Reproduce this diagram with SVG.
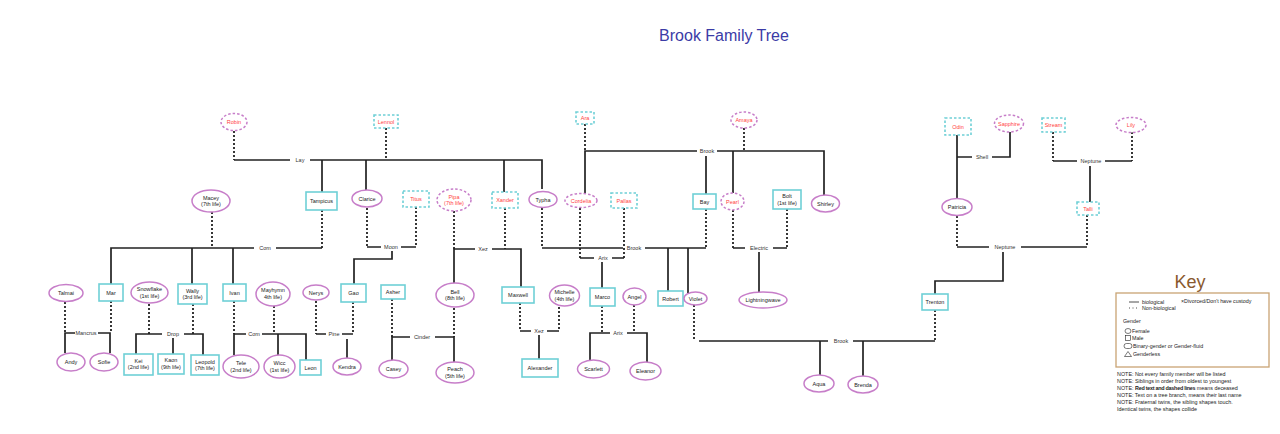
<svg xmlns="http://www.w3.org/2000/svg" width="1280" height="434" viewBox="0 0 1280 434">
<style>
.bg{fill:#fff}
.f{fill:#fff;stroke:#c77ec9;stroke-width:1.5}
.m{fill:#fff;stroke:#6fd0d6;stroke-width:1.6}
.dd{stroke-dasharray:2.5 2}
.t{font-family:"Liberation Sans",Arial,sans-serif;font-size:5.5px;fill:#222;text-anchor:middle}
.r{fill:#ff4242}
.s{fill:none;stroke:#222;stroke-width:1.7}
.d{fill:none;stroke:#222;stroke-width:1.8;stroke-dasharray:2 2}
.lb{font-family:"Liberation Sans",Arial,sans-serif;font-size:5.5px;fill:#333;text-anchor:middle}
.k{font-family:"Liberation Sans",Arial,sans-serif;font-size:5.3px;fill:#222}
.n{font-family:"Liberation Sans",Arial,sans-serif;font-size:5.4px;fill:#222}
</style>
<rect class="bg" x="0" y="0" width="1280" height="434"/>
<text x="724" y="41" font-family="'Liberation Sans',Arial,sans-serif" font-size="16" fill="#3b3ba6" text-anchor="middle">Brook Family Tree</text>

<g id="connectors">
<path class="d" d="M234 131V160M386 128V160"/>
<path class="s" d="M234 160H290M310 160H542V189M322 160V192M366 160V190M504 160V192"/>
<text class="lb" x="300" y="162">Lay</text>
<path class="d" d="M585 124V151M744 128V151"/>
<path class="s" d="M585 193V151H697M717 151H824V195M706 156V194M733 151V193"/>
<text class="lb" x="707" y="153">Brook</text>
<path class="s" d="M957 135V199M957 157H972M992 157H1010V132"/>
<text class="lb" x="982" y="159">Shell</text>
<path class="d" d="M1053 132V161M1132 132V161"/>
<path class="s" d="M1053 161H1077M1105 161H1132M1090 166V202"/>
<text class="lb" x="1091" y="163">Neptune</text>
<path class="d" d="M957 216V247M1087 215V247"/>
<path class="s" d="M957 247H989M1021 247H1087M1003 252V281H935V294"/>
<text class="lb" x="1005" y="249">Neptune</text>
<path class="d" d="M212 212V248M322 210V248"/>
<path class="s" d="M111 284V248H254M276 248H322M192 248V284M233 248V284"/>
<text class="lb" x="265" y="250">Com</text>
<path class="d" d="M367 208V247M416 207V247"/>
<path class="s" d="M367 247H381M401 247H416M392 251V259H354V284"/>
<text class="lb" x="391" y="249">Moon</text>
<path class="d" d="M454 211V249M505 208V249"/>
<path class="s" d="M454 283V249H475M492 249H521V287"/>
<text class="lb" x="483" y="251">Xez</text>
<path class="d" d="M542 208V248M706 209V248"/>
<path class="s" d="M542 248H623M645 248H706M668 248V291M688 248V293"/>
<text class="lb" x="634" y="250">Brook</text>
<path class="d" d="M580 208V258M624 208V258"/>
<path class="s" d="M580 258H594M612 258H624M602 262V288"/>
<text class="lb" x="603" y="260">Arix</text>
<path class="d" d="M733 210V248M787 209V248"/>
<path class="s" d="M733 248H745M773 248H787M759 252V292"/>
<text class="lb" x="759" y="250">Electric</text>
<path class="d" d="M65 302V333M111 301V333"/>
<path class="s" d="M65 353V333H75M98 333H110V353"/>
<text class="lb" x="86" y="335">Mancrus</text>
<path class="d" d="M149 304V334M193 304V334"/>
<path class="s" d="M136 354V334H162M184 334H203V355M173 338V354"/>
<text class="lb" x="173" y="336">Drop</text>
<path class="d" d="M234 301V334M274 306V334"/>
<path class="s" d="M234 355V334H246M262 334H306V360M278 334V355"/>
<text class="lb" x="254" y="336">Com</text>
<path class="d" d="M316 301V334M353 302V334"/>
<path class="s" d="M316 334H326M342 334H353M347 339V358"/>
<text class="lb" x="334" y="336">Pine</text>
<path class="d" d="M392 299V337M454 308V337"/>
<path class="s" d="M392 360V337H410M435 337H454V362"/>
<text class="lb" x="422" y="339">Cinder</text>
<path class="d" d="M520 303V331M559 307V331"/>
<path class="s" d="M520 331H531M547 331H559M539 335V359"/>
<text class="lb" x="539" y="333">Xez</text>
<path class="d" d="M602 306V333M634 305V333"/>
<path class="s" d="M590 360V333H610M627 333H647V362"/>
<text class="lb" x="618" y="335">Arix</text>
<path class="d" d="M694 305V341M935 310V341"/>
<path class="s" d="M699 341H828M853 341H935M820 341V375M863 341V376"/>
<text class="lb" x="841" y="343">Brook</text>
</g>

<g id="robin"><ellipse class="f dd" cx="234" cy="122" rx="13" ry="8.5"/><text class="t r" x="234" y="124">Robin</text></g>
<g id="lennol"><rect class="m dd" x="374" y="115" width="24" height="13"/><text class="t r" x="386" y="123.5">Lennol</text></g>
<g id="ara"><rect class="m dd" x="576" y="112" width="18" height="12"/><text class="t r" x="585" y="120">Ara</text></g>
<g id="amaya"><ellipse class="f dd" cx="744" cy="120" rx="13" ry="8"/><text class="t r" x="744" y="122">Amaya</text></g>
<g id="odin"><rect class="m dd" x="945" y="118" width="26" height="17"/><text class="t r" x="958" y="128.5">Odin</text></g>
<g id="sapphire"><ellipse class="f dd" cx="1009" cy="123.5" rx="14.5" ry="8.5"/><text class="t r" x="1009" y="125.5">Sapphire</text></g>
<g id="stream"><rect class="m dd" x="1042" y="118" width="23" height="14"/><text class="t r" x="1053.5" y="127">Stream</text></g>
<g id="lily"><ellipse class="f dd" cx="1131" cy="125" rx="15" ry="7.5"/><text class="t r" x="1131" y="127">Lily</text></g>

<g id="macey"><ellipse class="f" cx="211" cy="201" rx="19" ry="11"/><text class="t" x="211" y="199.5">Macey</text><text class="t" x="211" y="206">(7th life)</text></g>
<g id="tampicus"><rect class="m" x="306" y="192" width="31" height="18"/><text class="t" x="321.5" y="203">Tampicus</text></g>
<g id="clarice"><ellipse class="f" cx="367" cy="198.5" rx="15" ry="8.5"/><text class="t" x="367" y="200.5">Clarice</text></g>
<g id="titus"><rect class="m dd" x="403" y="191" width="26" height="16"/><text class="t r" x="416" y="201">Titus</text></g>
<g id="pipa"><ellipse class="f dd" cx="454" cy="200" rx="17" ry="11"/><text class="t r" x="454" y="198.5">Pipa</text><text class="t r" x="454" y="205">(7th life)</text></g>
<g id="xander"><rect class="m dd" x="492" y="192" width="26" height="16"/><text class="t r" x="505" y="202">Xander</text></g>
<g id="typha"><ellipse class="f" cx="543" cy="199.5" rx="14" ry="8"/><text class="t" x="543" y="201.5">Typha</text></g>
<g id="cordelia"><ellipse class="f dd" cx="581" cy="200.5" rx="16" ry="7"/><text class="t r" x="581" y="202.5">Cordelia</text></g>
<g id="pallas"><rect class="m dd" x="611" y="193" width="26" height="15"/><text class="t r" x="624" y="202.5">Pallas</text></g>
<g id="bay"><rect class="m" x="693" y="194" width="23" height="15"/><text class="t" x="704.5" y="203.5">Bay</text></g>
<g id="pearl"><ellipse class="f dd" cx="732.5" cy="201.5" rx="11.5" ry="8.5"/><text class="t r" x="732.5" y="203.5">Pearl</text></g>
<g id="bolt"><rect class="m" x="773" y="190" width="28" height="19"/><text class="t" x="787" y="198">Bolt</text><text class="t" x="787" y="204.5">(1st life)</text></g>
<g id="shirley"><ellipse class="f" cx="825.5" cy="203.5" rx="14" ry="8.5"/><text class="t" x="825.5" y="205.5">Shirley</text></g>
<g id="patricia"><ellipse class="f" cx="957" cy="207" rx="15" ry="8.5"/><text class="t" x="957" y="209">Patricia</text></g>
<g id="talli"><rect class="m dd" x="1077" y="202" width="22" height="13"/><text class="t r" x="1088" y="210.5">Talli</text></g>

<g id="talmai"><ellipse class="f" cx="66" cy="293" rx="17" ry="8.5"/><text class="t" x="66" y="295">Talmai</text></g>
<g id="mar"><rect class="m" x="99" y="284" width="24" height="17"/><text class="t" x="111" y="294.5">Mar</text></g>
<g id="snowflake"><ellipse class="f" cx="149.5" cy="292.5" rx="18.5" ry="10.5"/><text class="t" x="149.5" y="291">Snowflake</text><text class="t" x="149.5" y="297.5">(1st life)</text></g>
<g id="wally"><rect class="m" x="178" y="284" width="29" height="20"/><text class="t" x="192.5" y="292.5">Wally</text><text class="t" x="192.5" y="299">(3rd life)</text></g>
<g id="ivan"><rect class="m" x="223" y="284" width="23" height="17"/><text class="t" x="234.5" y="294.5">Ivan</text></g>
<g id="mayhymn"><ellipse class="f" cx="273" cy="294" rx="17" ry="12"/><text class="t" x="273" y="292">Mayhymn</text><text class="t" x="273" y="298.5">4th life)</text></g>
<g id="nerys"><ellipse class="f" cx="316" cy="292.5" rx="13" ry="7.5"/><text class="t" x="316" y="294.5">Nerys</text></g>
<g id="gao"><rect class="m" x="341" y="284" width="25" height="18"/><text class="t" x="353.5" y="295">Gao</text></g>
<g id="asher"><rect class="m" x="381" y="285" width="24" height="14"/><text class="t" x="393" y="294">Asher</text></g>
<g id="bell"><ellipse class="f" cx="455" cy="295" rx="19" ry="12"/><text class="t" x="455" y="293.5">Bell</text><text class="t" x="455" y="300">(8th life)</text></g>
<g id="maxwell"><rect class="m" x="502" y="287" width="32" height="16"/><text class="t" x="518" y="297">Maxwell</text></g>
<g id="michelle"><ellipse class="f" cx="564.5" cy="295.5" rx="15" ry="10.5"/><text class="t" x="564.5" y="294">Michelle</text><text class="t" x="564.5" y="300.5">(4th life)</text></g>
<g id="marco"><rect class="m" x="590" y="288" width="25" height="18"/><text class="t" x="602.5" y="299">Marco</text></g>
<g id="angel"><ellipse class="f" cx="634.5" cy="296.5" rx="11.5" ry="8.5"/><text class="t" x="634.5" y="298.5">Angel</text></g>
<g id="robert"><rect class="m" x="658" y="291" width="25" height="15"/><text class="t" x="670.5" y="300.5">Robert</text></g>
<g id="violet"><ellipse class="f" cx="695.5" cy="298.5" rx="11.5" ry="6.5"/><text class="t" x="695.5" y="300.5">Violet</text></g>
<g id="lightningwave"><ellipse class="f" cx="763" cy="300" rx="24" ry="8"/><text class="t" x="763" y="302">Lightningwave</text></g>
<g id="trenton"><rect class="m" x="922" y="294" width="26" height="16"/><text class="t" x="935" y="304">Trenton</text></g>

<g id="andy"><ellipse class="f" cx="71" cy="362" rx="14" ry="9"/><text class="t" x="71" y="364">Andy</text></g>
<g id="sofie"><ellipse class="f" cx="104" cy="362" rx="14" ry="9"/><text class="t" x="104" y="364">Sofie</text></g>
<g id="kei"><rect class="m" x="124" y="354" width="29" height="21"/><text class="t" x="138.5" y="362.5">Kei</text><text class="t" x="138.5" y="369">(2nd life)</text></g>
<g id="kaon"><rect class="m" x="158" y="354" width="26" height="20"/><text class="t" x="171" y="362">Kaon</text><text class="t" x="171" y="368.5">(9th life)</text></g>
<g id="leopold"><rect class="m" x="191" y="355" width="28" height="20"/><text class="t" x="205" y="363.5">Leopold</text><text class="t" x="205" y="370">(7th life)</text></g>
<g id="tele"><ellipse class="f" cx="241" cy="366.5" rx="18" ry="11.5"/><text class="t" x="241" y="365">Tele</text><text class="t" x="241" y="371.5">(2nd life)</text></g>
<g id="wicc"><ellipse class="f" cx="279.5" cy="366.5" rx="15.5" ry="11.5"/><text class="t" x="279.5" y="365">Wicc</text><text class="t" x="279.5" y="371.5">(1st life)</text></g>
<g id="leon"><rect class="m" x="300" y="360" width="21" height="15"/><text class="t" x="310.5" y="369.5">Leon</text></g>
<g id="kendra"><ellipse class="f" cx="347" cy="366.5" rx="14" ry="8.5"/><text class="t" x="347" y="368.5">Kendra</text></g>
<g id="casey"><ellipse class="f" cx="393.5" cy="369" rx="14.5" ry="9"/><text class="t" x="393.5" y="371">Casey</text></g>
<g id="peach"><ellipse class="f" cx="455" cy="372.5" rx="19" ry="10.5"/><text class="t" x="455" y="371">Peach</text><text class="t" x="455" y="377.5">(5th life)</text></g>
<g id="alexander"><rect class="m" x="522" y="359" width="36" height="18"/><text class="t" x="540" y="370">Alexander</text></g>
<g id="scarlett"><ellipse class="f" cx="593.5" cy="369" rx="16" ry="9"/><text class="t" x="593.5" y="371">Scarlett</text></g>
<g id="eleanor"><ellipse class="f" cx="645.5" cy="371" rx="15.5" ry="9"/><text class="t" x="645.5" y="373">Eleanor</text></g>
<g id="aqua"><ellipse class="f" cx="819" cy="383.5" rx="15" ry="8.5"/><text class="t" x="819" y="385.5">Aqua</text></g>
<g id="brenda"><ellipse class="f" cx="863" cy="384.5" rx="15" ry="8.5"/><text class="t" x="863" y="386.5">Brenda</text></g>

<g id="key">
<text x="1190" y="288" font-family="'Liberation Sans',Arial,sans-serif" font-size="18" fill="#8a5a2e" text-anchor="middle">Key</text>
<rect x="1116" y="293" width="153" height="74" fill="#fff" stroke="#c9a473" stroke-width="1.3"/>
<line x1="1129" y1="302" x2="1139" y2="302" stroke="#222" stroke-width="0.8"/>
<text class="k" x="1142" y="304">biological</text>
<line x1="1129" y1="308" x2="1139" y2="308" stroke="#222" stroke-width="0.8" stroke-dasharray="1 2.5"/>
<text class="k" x="1142" y="310">Non-biological</text>
<text class="k" x="1181" y="303">×Divorced/Don't have custody</text>
<text class="k" x="1123" y="323">Gender</text>
<ellipse cx="1128" cy="331" rx="3" ry="2.5" fill="none" stroke="#222" stroke-width="0.6"/>
<text class="k" x="1132" y="333">Female</text>
<rect x="1125.5" y="335.5" width="5" height="5" fill="none" stroke="#222" stroke-width="0.6"/>
<text class="k" x="1132" y="340">Male</text>
<rect x="1124" y="343.5" width="8" height="5" rx="2.5" fill="none" stroke="#222" stroke-width="0.6"/>
<text class="k" x="1133" y="348">Binary-gender or Gender-fluid</text>
<path d="M1124.5 356.5L1128 351.5L1131.5 356.5Z" fill="none" stroke="#222" stroke-width="0.6"/>
<text class="k" x="1133" y="356">Genderless</text>
<text class="n" x="1117" y="376">NOTE: Not every family member will be listed</text>
<text class="n" x="1117" y="383">NOTE: Siblings in order from oldest to youngest</text>
<text class="n" x="1117" y="390">NOTE: <tspan font-weight="bold" letter-spacing="-0.25">Red text and dashed lines</tspan> means deceased</text>
<text class="n" x="1117" y="397">NOTE: Text on a tree branch, means their last name</text>
<text class="n" x="1117" y="404">NOTE: Fraternal twins, the sibling shapes touch.</text>
<text class="n" x="1117" y="411">Identical twins, the shapes collide</text>
</g>
</svg>
